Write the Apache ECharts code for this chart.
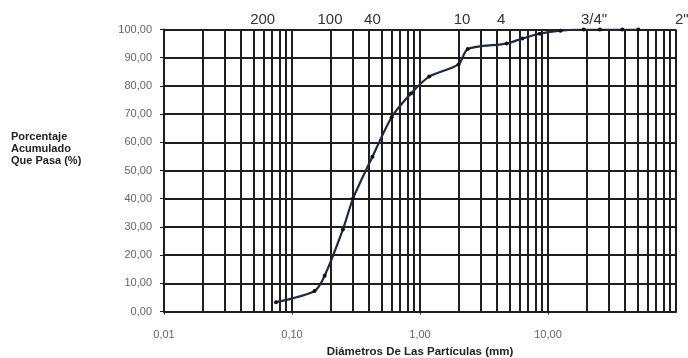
<!DOCTYPE html>
<html>
<head>
<meta charset="utf-8">
<script src="https://cdn.jsdelivr.net/npm/echarts@6/dist/echarts.min.js"></script>
<style>
  html, body { margin: 0; padding: 0; background: #ffffff; }
  #chart { width: 688px; height: 358px; }
</style>
</head>
<body>
<div id="chart"></div>
<script>
// Curva granulométrica: diámetro (mm) vs porcentaje acumulado que pasa
const diametros = [0.075, 0.15, 0.18, 0.25, 0.30, 0.425, 0.60, 0.85, 1.18, 2.00, 2.36, 4.75, 6.30, 8.60, 12.5, 19.0, 25.4, 38.1, 50.8];
const pasa      = [3.3,   7.3,  12.7, 29.1, 40.1, 54.9,  68.9, 77.3, 83.3, 87.6, 93.1, 95.0, 96.8, 98.5, 99.6, 100,  100,  100,  100];

// Rótulos de tamices sobre el gráfico y su posición en mm
const tamizRotulos = ['200', '100', '40', '10', '4', '3/4"', '2"'];
const tamizPosMm   = [0.059, 0.198, 0.425, 2.13, 4.3, 22.9, 111];

const xMin = 0.01, xMax = 100;
const yMin = 0, yMax = 100, yPaso = 10;

// Líneas verticales de la cuadrícula logarítmica (1..9 por década)
const gridX = [];
for (let d = xMin; d < xMax * 0.999; d *= 10) {
  for (let k = 1; k <= 9; k++) gridX.push(+(d * k).toPrecision(3));
}
gridX.push(xMax);

const coma = v => Number(v).toFixed(2).replace('.', ',');
const gridColor = '#1e1e1e';
const fuente = '"Liberation Sans", Arial';

const chart = echarts.init(document.getElementById('chart'));
chart.setOption({
  animation: false,
  grid: { left: 164, right: 12, top: 29.5, bottom: 46.5, containLabel: false, outerBoundsMode: 'none' },
  xAxis: {
    type: 'log',
    logBase: 10,
    min: xMin,
    max: xMax,
    name: 'Diámetros De Las Partículas (mm)',
    nameLocation: 'middle',
    nameGap: 34,
    nameTextStyle: { fontFamily: fuente, fontWeight: 'bold', fontSize: 11.5, color: '#222' },
    axisLine: { show: true, lineStyle: { color: gridColor, width: 2 } },
    axisTick: { show: true, inside: false, length: 3, lineStyle: { color: gridColor } },
    axisLabel: { formatter: coma, margin: 18, showMaxLabel: false, fontFamily: fuente, fontSize: 11, color: '#666' },
    splitLine: { show: false },
    minorTick: { show: false }
  },
  yAxis: {
    type: 'value',
    min: yMin,
    max: yMax,
    interval: yPaso,
    axisLine: { show: true, lineStyle: { color: gridColor, width: 2 } },
    axisTick: { show: true, length: 4, lineStyle: { color: gridColor } },
    axisLabel: { formatter: coma, margin: 12, fontFamily: fuente, fontSize: 11, color: '#666' },
    splitLine: { show: true, lineStyle: { color: gridColor, width: 2 } }
  },
  series: [
    {
      type: 'line',
      name: 'grid',
      data: [],
      silent: true,
      markLine: {
        silent: true,
        symbol: 'none',
        label: { show: false },
        lineStyle: { color: gridColor, width: 2, type: 'solid' },
        data: gridX.map(v => ({ xAxis: v }))
      }
    },
    {
      type: 'line',
      name: '% Que Pasa',
      data: diametros.map((d, i) => [d, pasa[i]]),
      smooth: 0.25,
      symbol: 'circle',
      symbolSize: 4,
      showSymbol: true,
      itemStyle: { color: '#111' },
      lineStyle: { color: '#1d2a44', width: 2.2 },
      z: 5
    }
  ]
});

// Rótulos de tamices encima del área de trazado
const topY = chart.convertToPixel({ yAxisIndex: 0 }, yMax);
chart.setOption({
  graphic: tamizRotulos.map((t, i) => ({
    type: 'text',
    x: chart.convertToPixel({ xAxisIndex: 0 }, tamizPosMm[i]),
    y: topY - 2,
    style: {
      text: t,
      fill: '#333',
      font: '15px ' + fuente,
      textAlign: 'center',
      textVerticalAlign: 'bottom'
    }
  })).concat([{
    type: 'text',
    left: 11,
    top: 131,
    style: {
      text: 'Porcentaje\nAcumulado\nQue Pasa (%)',
      fill: '#222',
      font: 'bold 11px ' + fuente,
      lineHeight: 12
    }
  }])
});
</script>
</body>
</html>
